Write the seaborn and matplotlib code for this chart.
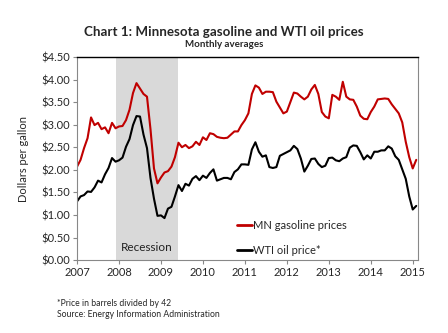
import numpy as np
import pandas as pd
import matplotlib
matplotlib.use("Agg")
import matplotlib.pyplot as plt
import seaborn as sns

# Monthly series, Jan 2007 .. Feb 2015
start_year = 2007
mn_gasoline = [
    2.07, 2.22, 2.48, 2.70, 3.16, 2.99, 3.04, 2.90, 2.94, 2.81, 3.04, 2.92,   # 2007
    2.96, 2.97, 3.10, 3.33, 3.70, 3.92, 3.80, 3.68, 3.62, 2.90, 2.03, 1.70,   # 2008
    1.83, 1.94, 1.97, 2.07, 2.28, 2.60, 2.50, 2.55, 2.48, 2.52, 2.62, 2.55,   # 2009
    2.72, 2.66, 2.81, 2.79, 2.73, 2.71, 2.70, 2.71, 2.78, 2.85, 2.85, 2.99,   # 2010
    3.10, 3.25, 3.68, 3.87, 3.82, 3.68, 3.73, 3.73, 3.72, 3.51, 3.38, 3.25,   # 2011
    3.29, 3.50, 3.71, 3.69, 3.62, 3.56, 3.62, 3.78, 3.88, 3.68, 3.28, 3.18,   # 2012
    3.14, 3.66, 3.62, 3.55, 3.95, 3.62, 3.56, 3.55, 3.40, 3.20, 3.13, 3.12,   # 2013
    3.28, 3.40, 3.56, 3.57, 3.58, 3.57, 3.45, 3.35, 3.25, 3.05, 2.62, 2.28,   # 2014
    2.03, 2.22,                                                               # 2015
]
wti_oil = [
    1.30, 1.41, 1.44, 1.52, 1.51, 1.61, 1.76, 1.72, 1.90, 2.04, 2.26, 2.18,
    2.21, 2.27, 2.51, 2.68, 2.99, 3.19, 3.18, 2.78, 2.48, 1.82, 1.36, 0.98,
    0.99, 0.93, 1.14, 1.18, 1.41, 1.66, 1.53, 1.69, 1.65, 1.80, 1.86, 1.77,
    1.87, 1.82, 1.93, 2.01, 1.76, 1.79, 1.82, 1.82, 1.79, 1.95, 2.01, 2.12,
    2.12, 2.11, 2.45, 2.61, 2.40, 2.29, 2.32, 2.06, 2.04, 2.06, 2.31, 2.35,
    2.39, 2.43, 2.53, 2.46, 2.25, 1.96, 2.09, 2.24, 2.25, 2.13, 2.06, 2.09,
    2.26, 2.27, 2.21, 2.19, 2.25, 2.28, 2.49, 2.54, 2.53, 2.39, 2.23, 2.32,
    2.25, 2.40, 2.40, 2.43, 2.43, 2.52, 2.47, 2.30, 2.22, 2.01, 1.80, 1.41,
    1.12, 1.20,
]
series_names = ["MN gasoline prices", "WTI oil price*"]
series_colors = ["#c00000", "#000000"]
year_ticks = [2007, 2008, 2009, 2010, 2011, 2012, 2013, 2014, 2015]
y_ticks = [0.0, 0.5, 1.0, 1.5, 2.0, 2.5, 3.0, 3.5, 4.0, 4.5]
recession_start = 2007 + 11 / 12   # Dec 2007
recession_end = 2009 + 5 / 12      # Jun 2009

n = len(mn_gasoline)
t = start_year + np.arange(n) / 12.0
df = pd.DataFrame({
    "t": np.concatenate([t, t]),
    "price": mn_gasoline + wti_oil,
    "series": [series_names[0]] * n + [series_names[1]] * n,
})

sns.set_style("white")
plt.rcParams["font.family"] = ["Lato", "DejaVu Sans"]

fig = plt.figure(figsize=(4.48, 3.33), dpi=100)
ax = fig.add_axes([0.172, 0.219, 0.761, 0.610])

ax.axvspan(recession_start, recession_end, color="#d9d9d9", lw=0, zorder=0)
ax.text((recession_start + recession_end) / 2, 0.28, "Recession",
        ha="center", va="center", fontsize=8.5, color="#222222")

sns.lineplot(data=df, x="t", y="price", hue="series",
             palette=dict(zip(series_names, series_colors)),
             linewidth=1.5, ax=ax, legend=True)

ax.set_xlim(2007, 2015 + 1.5 / 12)
ax.set_ylim(0, 4.5)
ax.set_xticks(year_ticks)
ax.set_xticklabels([str(y) for y in year_ticks], fontsize=8)
ax.set_yticks(y_ticks)
ax.set_yticklabels([f"${v:.2f}" for v in y_ticks], fontsize=8)
ax.set_xlabel("")
ax.set_ylabel("Dollars per gallon", fontsize=8, labelpad=9)
ax.tick_params(axis="both", direction="out", length=3, width=0.8,
               color="#888888", pad=2, left=True, bottom=True)

for side in ["left", "bottom", "right"]:
    ax.spines[side].set_color("#888888")
    ax.spines[side].set_linewidth(0.8)
    ax.spines[side].set_visible(True)
ax.spines["top"].set_color("#000000")
ax.spines["top"].set_linewidth(1.0)
ax.spines["top"].set_visible(True)

leg = ax.legend(loc="lower left", bbox_to_anchor=(0.44, -0.03), frameon=False,
                fontsize=8, handlelength=1.3, handletextpad=0.15,
                labelspacing=1.25)
for line in leg.get_lines():
    line.set_linewidth(2.0)

fig.text(0.5, 0.905, "Chart 1: Minnesota gasoline and WTI oil prices",
         ha="center", va="center", fontsize=9.6, fontweight="bold")
fig.text(0.5, 0.866, "Monthly averages", ha="center", va="center",
         fontsize=7, fontweight="bold")
fig.text(0.127, 0.09, "*Price in barrels divided by 42", ha="left",
         va="center", fontsize=6.2)
fig.text(0.127, 0.057, "Source: Energy Information Administration",
         ha="left", va="center", fontsize=6.2)

fig.savefig("out.png", dpi=100)
